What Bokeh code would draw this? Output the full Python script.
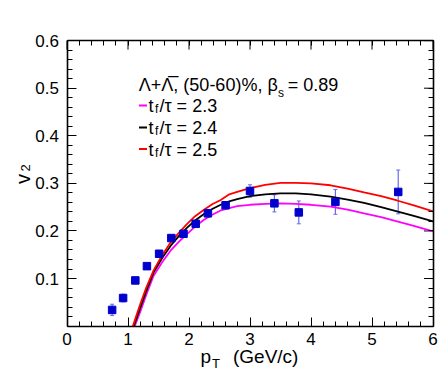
import math
from bokeh.plotting import figure
from bokeh.models import (ColumnDataSource, FixedTicker, LinearAxis, Range1d,
                          Label, Whisker, TeeHead)
from bokeh.embed import file_html
from bokeh.resources import INLINE

# ---- data ----
pt = [0.74, 0.92, 1.12, 1.31, 1.51, 1.71, 1.91, 2.11, 2.31, 2.60, 3.00, 3.40, 3.80, 4.40, 5.43]
v2 = [0.034, 0.059, 0.096, 0.126, 0.152, 0.185, 0.194, 0.215, 0.237, 0.254, 0.284, 0.258, 0.239, 0.261, 0.282]
v2_err = [0.012, 0.008, 0.005, 0.005, 0.005, 0.006, 0.005, 0.006, 0.008, 0.007, 0.013, 0.018, 0.024, 0.026, 0.046]

pt_tau23 = [1.11, 1.20, 1.30, 1.42, 1.56, 1.70, 1.84, 1.97, 2.10, 2.24, 2.38, 2.52, 2.66, 2.79,
            3.00, 3.25, 3.50, 3.75, 4.00, 4.32, 4.60, 4.87, 5.15, 5.41, 5.70, 6.00]
v2_tau23 = [0.000, 0.030, 0.066, 0.106, 0.134, 0.159, 0.178, 0.194, 0.209, 0.223, 0.234, 0.243, 0.248, 0.252,
            0.255, 0.257, 0.258, 0.257, 0.255, 0.251, 0.245, 0.237, 0.229, 0.220, 0.210, 0.199]
pt_tau24 = [1.095, 1.20, 1.30, 1.42, 1.56, 1.70, 1.84, 1.97, 2.10, 2.24, 2.38, 2.52, 2.66, 2.79,
            3.00, 3.25, 3.50, 3.75, 4.00, 4.32, 4.60, 4.87, 5.15, 5.41, 5.70, 6.00]
v2_tau24 = [0.000, 0.038, 0.074, 0.113, 0.143, 0.169, 0.190, 0.207, 0.222, 0.235, 0.246, 0.255, 0.262, 0.267,
            0.273, 0.277, 0.279, 0.279, 0.277, 0.272, 0.266, 0.259, 0.250, 0.241, 0.231, 0.220]
pt_tau25 = [1.08, 1.20, 1.30, 1.42, 1.56, 1.70, 1.84, 1.97, 2.10, 2.24, 2.38, 2.52, 2.66, 2.79,
            3.00, 3.25, 3.50, 3.75, 4.00, 4.32, 4.60, 4.87, 5.15, 5.41, 5.70, 6.00]
v2_tau25 = [0.000, 0.046, 0.081, 0.117, 0.149, 0.176, 0.197, 0.215, 0.231, 0.244, 0.256, 0.265, 0.277, 0.282,
            0.290, 0.297, 0.301, 0.301, 0.300, 0.296, 0.289, 0.281, 0.273, 0.264, 0.253, 0.241]

x_ticks = [0, 1, 2, 3, 4, 5, 6]
x_minor = [round(i * 0.2, 2) for i in range(31)]
y_ticks = [0.1, 0.2, 0.3, 0.4, 0.5, 0.6]
y_minor = [round(i * 0.02, 2) for i in range(31)]

FONT = "Liberation Sans"
W, H = 440, 375
PX_X = 61.0      # pixels per unit of pT
PX_Y = 475.8     # pixels per unit of v2
X0_PX = 66.5     # canvas pixel of pT = 0
Y0_PX = 325.6    # canvas pixel of v2 = 0

x_start = -X0_PX / PX_X
y_end = Y0_PX / PX_Y
p = figure(width=W, height=H,
           x_range=Range1d(x_start, x_start + W / PX_X),
           y_range=Range1d(y_end - H / PX_Y, y_end),
           output_backend="svg", toolbar_location=None,
           min_border=0, min_border_left=0, min_border_right=0,
           min_border_top=0, min_border_bottom=0,
           background_fill_color="white", border_fill_color="white")
p.xgrid.visible = False
p.ygrid.visible = False
p.outline_line_color = None


def style_axis(ax, ticks, minor, loc, bounds, standoff):
    ax.ticker = FixedTicker(ticks=ticks, minor_ticks=minor)
    ax.fixed_location = loc
    ax.bounds = bounds
    ax.axis_line_color = "black"
    ax.axis_line_width = 1.6
    ax.major_tick_in = 9
    ax.major_tick_out = 0
    ax.minor_tick_in = 5
    ax.minor_tick_out = 0
    ax.major_tick_line_color = "black"
    ax.minor_tick_line_color = "black"
    ax.major_tick_line_width = 1
    ax.minor_tick_line_width = 1
    ax.major_label_standoff = standoff
    ax.major_label_text_font = FONT
    ax.major_label_text_font_size = "17px"
    ax.major_label_text_color = "black"


style_axis(p.xaxis[0], x_ticks, x_minor, 0, (0, 6), 7)
style_axis(p.yaxis[0], y_ticks, y_minor, 0, (0, 0.6), 8)
p.xaxis[0].major_label_overrides = {t: str(t) for t in x_ticks}

# top and right frame edges: minor ticks from axes, major ticks drawn as short segments
top = LinearAxis()
style_axis(top, [], x_minor, 0.6, (0, 6), 0)
p.add_layout(top, "above")
right = LinearAxis()
style_axis(right, [], y_minor, 6, (0, 0.6), 0)
p.add_layout(right, "right")

tick_dy = 9 / PX_Y
tick_dx = 9 / PX_X
p.segment(x0=x_ticks, x1=x_ticks, y0=[0.6] * len(x_ticks), y1=[0.6 - tick_dy] * len(x_ticks),
          line_color="black", line_width=1)
p.segment(x0=[6] * len(y_ticks), x1=[6 - tick_dx] * len(y_ticks), y0=y_ticks, y1=y_ticks,
          line_color="black", line_width=1)

# ---- model curves ----
p.line(pt_tau23, v2_tau23, line_color="#ff00ff", line_width=1.8)
p.line(pt_tau24, v2_tau24, line_color="black", line_width=1.8)
p.line(pt_tau25, v2_tau25, line_color="#ff0000", line_width=1.8)

# ---- data points with error bars ----
src = ColumnDataSource(dict(pt=pt, v2=v2,
                            lo=[a - b for a, b in zip(v2, v2_err)],
                            hi=[a + b for a, b in zip(v2, v2_err)]))
wh = Whisker(source=src, base="pt", lower="lo", upper="hi", dimension="height",
             line_color="#6a6ae6", line_width=1.2,
             upper_head=TeeHead(size=4, line_color="#6a6ae6", line_width=1),
             lower_head=TeeHead(size=4, line_color="#6a6ae6", line_width=1))
p.add_layout(wh)
p.scatter("pt", "v2", source=src, marker="square", size=7.5,
          fill_color="#0000cc", line_color="#0000cc")


def lab(x, y, text, size, color="black", font=FONT, angle=0.0):
    p.add_layout(Label(x=x, y=y, x_units="data", y_units="data", text=text,
                       text_font=font, text_font_size=size, text_color=color,
                       text_align="left", text_baseline="alphabetic", angle=angle))


def px_y(py):
    return (Y0_PX - py) / PX_Y


def px_x(px):
    return (px - X0_PX) / PX_X


# ---- legend text ----
lab(px_x(138.3), px_y(84.0), "\u039b+\u039b\u0305, (50-60)%, \u03b2", "18px")
lab(px_x(277.6), px_y(92.0), "s", "12px")
lab(px_x(287.3), px_y(84.0), "= 0.89", "18px")

rows = [(105.5, "2.3", "#ff00ff"), (127.5, "2.4", "black"), (149.0, "2.5", "#ff0000")]
for base, val, col in rows:
    yd = px_y(base - 0.5)
    p.segment(x0=[px_x(138.5)], x1=[px_x(146.5)], y0=[yd], y1=[yd],
              line_color=col, line_width=1.8)
    lab(px_x(148.0), px_y(base), "t", "18px")
    lab(px_x(154.5), px_y(base + 3.0), "f", "12px")
    lab(px_x(159.0), px_y(base), "/\u03c4 = " + val, "18px")

# ---- axis titles ----
lab(px_x(200.0), px_y(356.0), "p", "19px")
lab(px_x(211.5), px_y(362.5), "T", "13px")
lab(px_x(232.5), px_y(356.0), "(GeV/c)", "19px")

lab(px_x(22.0), px_y(183.5), "v", "20px", angle=math.pi / 2)
lab(px_x(25.0), px_y(171.0), "2", "13px", angle=math.pi / 2)

open("out.html", "w").write(file_html(p, INLINE))
